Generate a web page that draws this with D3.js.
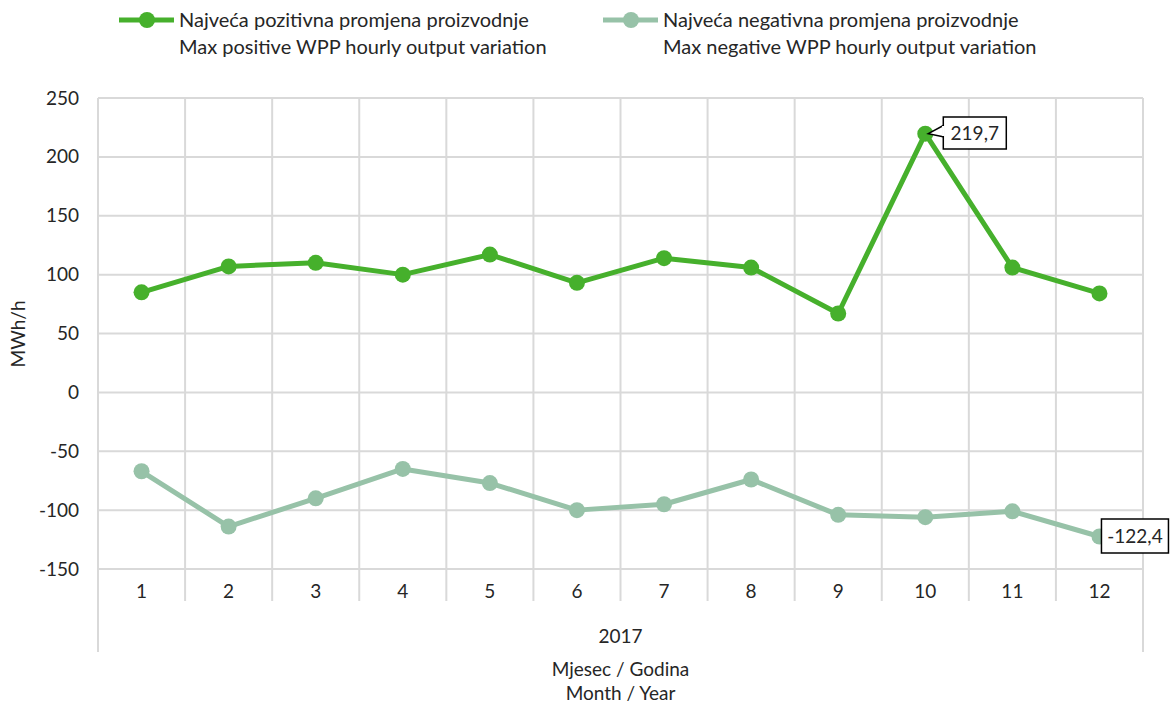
<!DOCTYPE html>
<html><head><meta charset="utf-8">
<script src="https://cdn.jsdelivr.net/npm/d3@7/dist/d3.min.js"></script>
<style>body{margin:0;background:#fff;} text{font-family:"Lato","Open Sans",sans-serif;fill:#262626;}</style>
</head><body><svg id="c" width="1173" height="706"></svg>
<script>
const months = ["1","2","3","4","5","6","7","8","9","10","11","12"];
const positive = [85, 107, 110, 100, 117, 93, 114, 106, 67, 219.7, 106, 84];
const negative = [-67, -114, -90, -65, -77, -100, -95, -74, -104, -106, -101, -122.4];
const yTicks = [-150, -100, -50, 0, 50, 100, 150, 200, 250];
const seriesNames = [
  ["Najveća pozitivna promjena proizvodnje", "Max positive WPP hourly output variation"],
  ["Najveća negativna promjena proizvodnje", "Max negative WPP hourly output variation"]
];
const colors = ["#46B02C", "#97C2A8"];
const yearLabel = "2017";
const xTitle = ["Mjesec / Godina", "Month / Year"];
const yTitle = "MWh/h";

const FS = "19px";
const svg = d3.select("#c");
const L = 98, R = 1143, T = 98, B = 569;
const x = d3.scaleBand().domain(months).range([L, R]);
const y = d3.scaleLinear().domain([-150, 250]).range([B, T]);
const grid = "#d9d9d9";
const fmt = v => String(v).replace(".", ",");

// horizontal grid
svg.append("g").selectAll("line").data(yTicks).join("line")
  .attr("x1", L).attr("x2", R).attr("y1", d => y(d)).attr("y2", d => y(d))
  .attr("stroke", grid).attr("stroke-width", 2);
// vertical grid
const bounds = months.map(m => x(m)).concat([R]);
svg.append("g").selectAll("line").data(bounds).join("line")
  .attr("x1", d => d).attr("x2", d => d).attr("y1", T)
  .attr("y2", (d, i) => (i === 0 || i === bounds.length - 1) ? 652 : 601)
  .attr("stroke", grid).attr("stroke-width", 2);

// y axis labels
const yAxis = d3.axisLeft(y).tickValues(yTicks).tickSize(0).tickPadding(0).tickFormat(fmt);
const ya = svg.append("g").attr("transform", `translate(${L - 19},0)`).call(yAxis);
ya.select(".domain").remove();
ya.selectAll("text").style("font-size", FS).style("font-family", "Lato").attr("fill", "#262626");

// x axis labels
const xAxis = d3.axisBottom(x).tickSize(0).tickPadding(0);
const xa = svg.append("g").attr("transform", `translate(0,${B + 15})`).call(xAxis);
xa.select(".domain").remove();
xa.selectAll("text").style("font-size", FS).style("font-family", "Lato").attr("fill", "#262626");

svg.append("text").attr("x", (L + R) / 2).attr("y", 643).attr("text-anchor", "middle").style("font-size", FS).text(yearLabel);
svg.append("text").attr("x", (L + R) / 2).attr("y", 676).attr("text-anchor", "middle").style("font-size", FS).text(xTitle[0]);
svg.append("text").attr("x", (L + R) / 2).attr("y", 700).attr("text-anchor", "middle").style("font-size", FS).text(xTitle[1]);
svg.append("text").attr("transform", "translate(25,334) rotate(-90)").attr("text-anchor", "middle").style("font-size", FS).text(yTitle);

// lines
const line = d3.line().x((d, i) => x(months[i]) + x.bandwidth() / 2).y(d => y(d));
[positive, negative].forEach((s, k) => {
  svg.append("path").datum(s).attr("d", line).attr("fill", "none")
    .attr("stroke", colors[k]).attr("stroke-width", 5).attr("stroke-linejoin", "round");
  svg.append("g").selectAll("circle").data(s).join("circle")
    .attr("cx", (d, i) => x(months[i]) + x.bandwidth() / 2).attr("cy", d => y(d))
    .attr("r", 8).attr("fill", colors[k]);
});

// data labels
function callout(val, idx, bx, by, bw, bh, pointer) {
  const px = x(months[idx]) + x.bandwidth() / 2, py = y(val);
  const g = svg.append("g");
  if (pointer) {
    g.append("path").attr("d", `M${px + bx + 1},${by + 8} L${px + 3},${py} L${px + bx + 1},${by + 20}`)
      .attr("fill", "#fff").attr("stroke", "#000").attr("stroke-width", 1.5);
  }
  g.append("rect").attr("x", px + bx).attr("y", by).attr("width", bw).attr("height", bh)
    .attr("fill", "#fff").attr("stroke", "#000").attr("stroke-width", 1.5);
  if (pointer) {
    g.append("line").attr("x1", px + bx).attr("x2", px + bx).attr("y1", by + 9).attr("y2", by + 19).attr("stroke", "#fff").attr("stroke-width", 2.5);
  }
  g.append("text").attr("x", px + bx + bw / 2).attr("y", by + bh / 2 + 7).attr("text-anchor", "middle")
    .style("font-size", FS).attr("fill", "#000").text(fmt(val));
}
callout(positive[9], 9, 18, 117, 63, 32, true);
callout(negative[11], 11, 2, 519, 67, 34, false);

// legend
const legX = [119, 603];
legX.forEach((lx, k) => {
  const g = svg.append("g");
  g.append("line").attr("x1", lx).attr("x2", lx + 55).attr("y1", 20).attr("y2", 20)
    .attr("stroke", colors[k]).attr("stroke-width", 5);
  g.append("circle").attr("cx", lx + 28).attr("cy", 20).attr("r", 8).attr("fill", colors[k]);
  g.append("text").attr("x", lx + 60).attr("y", 27).style("font-size", "20px").text(seriesNames[k][0]);
  g.append("text").attr("x", lx + 60).attr("y", 54).style("font-size", "20px").text(seriesNames[k][1]);
});
</script></body></html>
